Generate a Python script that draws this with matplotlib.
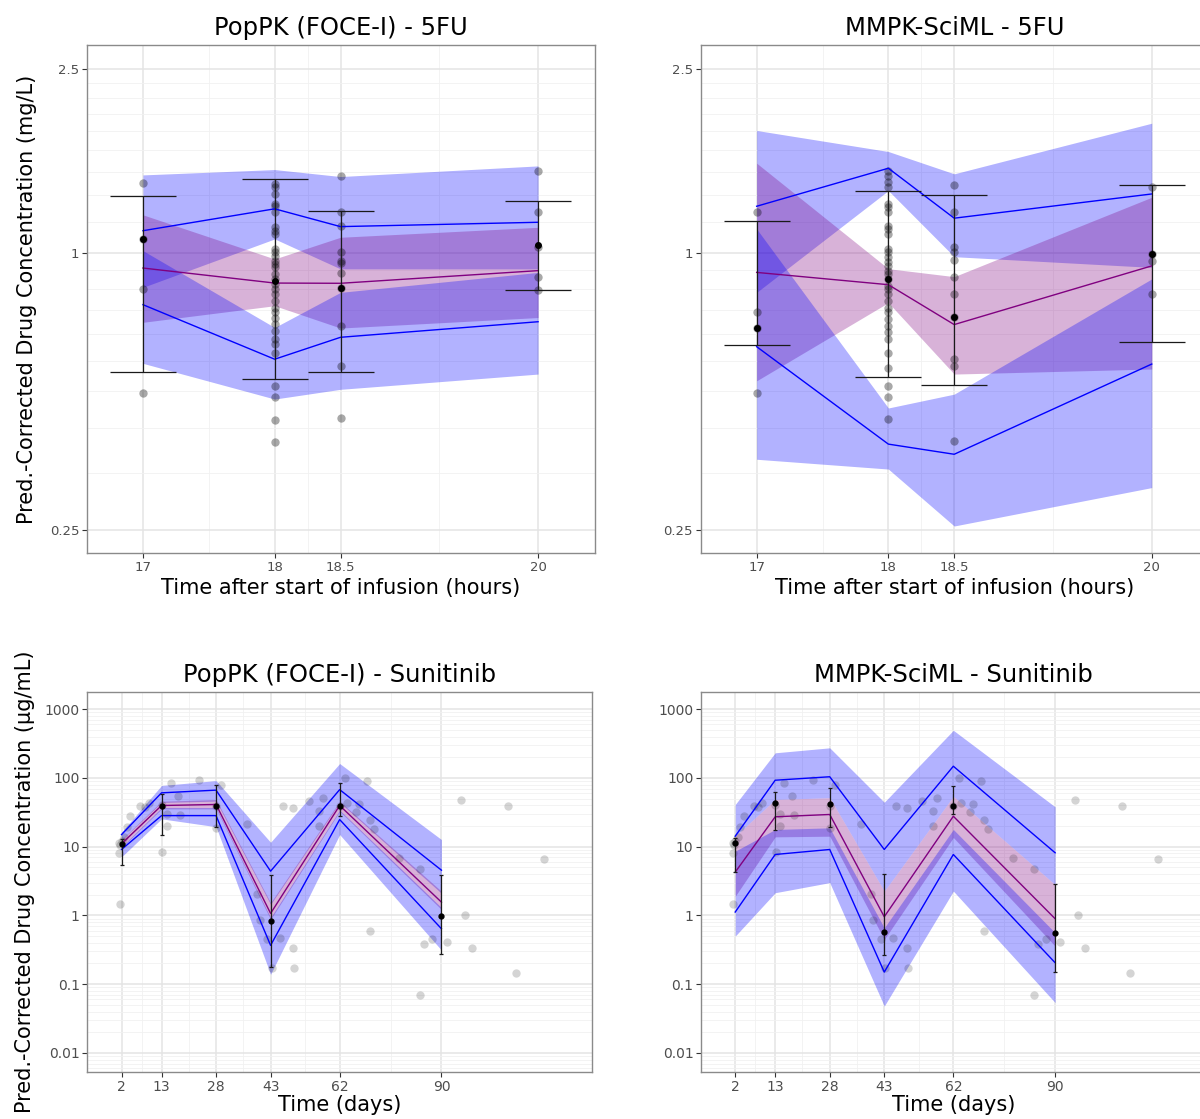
import numpy as np
import matplotlib
matplotlib.use("Agg")
import matplotlib.pyplot as plt
from matplotlib.ticker import FixedLocator, NullFormatter

# ── 5FU: time after start of infusion (hours) ────────────────────────────────
FU_TIME = [17, 18, 18.5, 20]
FU_YTICKS = [0.25, 1, 2.5]
FU_YLABELS = ["0.25", "1", "2.5"]
FU_YMINOR = [0.333, 0.417, 0.5, 0.583, 0.667, 0.75, 0.833, 0.917,
             1.167, 1.333, 1.5, 1.667, 1.833, 2.0, 2.167, 2.333]
FU_XMINOR = [17.5, 18.25, 19.25]

# PopPK (FOCE-I) - 5FU
tl_up_lo = [0.841, 1.071, 0.922, 0.922]
tl_up_hi = [1.475, 1.515, 1.463, 1.543]
tl_med_lo = [0.706, 0.767, 0.686, 0.723]
tl_med_hi = [1.208, 0.969, 1.080, 1.135]
tl_low_lo = [0.575, 0.481, 0.505, 0.545]
tl_low_hi = [1.010, 0.688, 0.820, 0.906]
tl_p95 = [1.116, 1.245, 1.139, 1.164]
tl_p50 = [0.926, 0.859, 0.858, 0.914]
tl_p05 = [0.771, 0.587, 0.655, 0.708]
tl_mean = [1.069, 0.869, 0.838, 1.037]
tl_err_lo = [0.552, 0.533, 0.552, 0.830]
tl_err_hi = [1.328, 1.443, 1.229, 1.297]
tl_obs_t = ([17] * 4 + [18] * 33 + [18.5] * 11 + [20] * 5)
tl_obs_v = [1.42, 1.07, 0.834, 0.496,
            1.410, 1.387, 1.341, 1.276, 1.265, 1.224, 1.135, 1.116, 1.098,
            1.019, 1.002, 0.985, 0.961, 0.945, 0.929, 0.899, 0.877, 0.855,
            0.834, 0.813, 0.786, 0.760, 0.742, 0.723, 0.700, 0.677, 0.649,
            0.633, 0.607, 0.514, 0.486, 0.433, 0.389,
            1.470, 1.224, 1.145, 1.002, 0.961, 0.948, 0.902, 0.838, 0.693,
            0.568, 0.438,
            1.507, 1.228, 1.027, 0.884, 0.830]

# MMPK-SciML - 5FU
tr_up_lo = [0.820, 1.364, 0.980, 0.929]
tr_up_hi = [1.842, 1.658, 1.483, 1.910]
tr_med_lo = [0.527, 0.779, 0.545, 0.559]
tr_med_hi = [1.564, 0.923, 0.887, 1.319]
tr_low_lo = [0.356, 0.339, 0.255, 0.309]
tr_low_hi = [1.126, 0.460, 0.493, 0.877]
tr_p95 = [1.261, 1.525, 1.188, 1.341]
tr_p50 = [0.906, 0.852, 0.698, 0.936]
tr_p05 = [0.625, 0.384, 0.365, 0.573]
tr_mean = [0.686, 0.877, 0.726, 0.993]
tr_err_lo = [0.630, 0.536, 0.516, 0.641]
tr_err_hi = [1.174, 1.359, 1.337, 1.401]
tr_obs_t = ([17] * 4 + [18] * 33 + [18.5] * 11 + [20] * 4)
tr_obs_v = [1.228, 0.742, 0.686, 0.497,
            1.507, 1.470, 1.422, 1.387, 1.276, 1.255, 1.224, 1.145, 1.126,
            1.098, 1.019, 1.002, 0.977, 0.953, 0.937, 0.914, 0.899, 0.877,
            0.848, 0.834, 0.813, 0.786, 0.760, 0.742, 0.718, 0.694, 0.671,
            0.649, 0.607, 0.563, 0.514, 0.486, 0.435,
            1.403, 1.228, 1.027, 1.002, 0.966, 0.884, 0.813, 0.726, 0.587,
            0.568, 0.390,
            1.387, 0.993, 0.958, 0.813]

# ── Sunitinib: time (days) ───────────────────────────────────────────────────
SUN_TIME = [2, 13, 28, 43, 62, 90]
SUN_YTICKS = [0.01, 0.1, 1, 10, 100, 1000]
SUN_YLABELS = ["0.01", "0.1", "1", "10", "100", "1000"]
SUN_YMINOR = [m * 10.0 ** e for e in range(-3, 4) for m in range(2, 10)]
SUN_XMINOR = [7.5, 20.5, 35.5, 52.5, 76]

# observations (same pred.-corrected points in both sunitinib panels)
sun_obs_t = [1.3, 1.6, 2.0, 1.26, 1.45, 2.8, 3.4, 4.3, 7.2, 8.4, 9.5, 13.0,
             13.2, 14.4, 14.4, 15.5, 17.5, 18.2, 23.4, 28.0, 28.1, 29.4,
             36.6, 39.3, 40.0, 42.1, 43.3, 45.5, 46.3, 49.2, 49.2, 49.4,
             53.5, 56.3, 56.3, 57.4, 62.0, 63.6, 64.1, 66.6, 67.3, 69.6,
             70.3, 70.3, 71.4, 78.3, 84.2, 84.2, 85.3, 87.4, 91.4, 95.4,
             96.4, 98.3, 108.4, 110.6, 118.3]
sun_obs_v = [11.5, 10.5, 12.0, 7.96, 1.48, 14.0, 19.5, 27.7, 39.7, 38.0,
             43.5, 40.0, 8.43, 29.4, 19.9, 83.0, 55.5, 28.7, 92.6, 39.0,
             18.8, 79.0, 21.7, 2.02, 0.85, 0.448, 0.174, 0.474, 38.8, 36.7,
             0.34, 0.17, 45.8, 32.8, 20.3, 51.4, 39.0, 100.0, 43.5, 31.7,
             42.4, 91.6, 24.8, 0.585, 18.2, 6.9, 4.66, 0.0687, 0.39, 0.448,
             0.41, 48.5, 1.01, 0.335, 39.7, 0.147, 6.67]

# PopPK (FOCE-I) - Sunitinib
bl_up_lo = [12.5, 44.0, 46.0, 1.45, 44.0, 2.1]
bl_up_hi = [16.3, 77.6, 91.5, 11.6, 162.0, 12.7]
bl_med_lo = [9.7, 35.5, 35.5, 0.875, 32.8, 1.22]
bl_med_hi = [12.7, 45.8, 48.5, 1.53, 45.8, 2.25]
bl_low_lo = [7.1, 25.4, 19.5, 0.139, 15.0, 0.313]
bl_low_hi = [10.0, 37.0, 37.0, 0.93, 34.0, 1.3]
bl_p95 = [15.0, 60.7, 66.4, 4.4, 67.6, 4.55]
bl_p50 = [11.0, 39.7, 41.1, 1.07, 39.7, 1.56]
bl_p05 = [9.1, 28.3, 28.3, 0.367, 24.8, 0.64]
bl_mean = [11.1, 39.7, 38.8, 0.83, 38.8, 0.977]
bl_err_lo = [5.38, 15.0, 19.2, 0.18, 27.7, 0.271]
bl_err_hi = [13.0, 59.3, 77.6, 3.85, 83.0, 3.81]

# MMPK-SciML - Sunitinib
br_up_lo = [14.2, 48.6, 51.5, 2.25, 54.0, 2.8]
br_up_hi = [41.0, 232.0, 274.0, 44.3, 493.0, 38.0]
br_med_lo = [1.9, 13.9, 14.2, 0.448, 13.6, 0.358]
br_med_hi = [14.2, 48.6, 51.5, 2.25, 54.0, 2.8]
br_low_lo = [0.5, 2.14, 3.0, 0.048, 2.26, 0.054]
br_low_hi = [8.6, 17.8, 18.8, 0.66, 17.8, 0.56]
br_p95 = [14.2, 92.6, 104.0, 9.1, 148.0, 8.15]
br_p50 = [4.26, 27.2, 29.4, 0.957, 27.7, 0.895]
br_p05 = [1.12, 7.7, 9.1, 0.15, 7.7, 0.205]
br_mean = [11.4, 42.5, 41.1, 0.58, 38.8, 0.56]
br_err_lo = [4.3, 17.4, 19.2, 0.262, 29.4, 0.152]
br_err_hi = [13.5, 62.9, 70.2, 3.95, 75.6, 2.82]

BAND_BLUE = "blue"
BAND_PINK = "purple"
GRID_MAJOR = "#e4e4e4"
GRID_MINOR = "#f1f1f1"


def draw_vpc(ax, t, up, med, low, p95, p50, p05, mean, err, obs,
             pt_alpha, capsize, ms):
    ax.fill_between(t, up[0], up[1], color=BAND_BLUE, alpha=0.3, lw=0, zorder=2)
    ax.fill_between(t, med[0], med[1], color=BAND_PINK, alpha=0.3, lw=0, zorder=2)
    ax.fill_between(t, low[0], low[1], color=BAND_BLUE, alpha=0.3, lw=0, zorder=2)
    ax.scatter(obs[0], obs[1], s=36, color="black", alpha=pt_alpha,
               lw=0, zorder=3)
    ax.plot(t, p95, color="blue", lw=1.0, zorder=4)
    ax.plot(t, p05, color="blue", lw=1.0, zorder=4)
    ax.plot(t, p50, color="purple", lw=1.0, zorder=4)
    m = np.asarray(mean)
    yerr = [m - np.asarray(err[0]), np.asarray(err[1]) - m]
    ax.errorbar(t, m, yerr=yerr, fmt="o", color="black", ms=ms,
                ecolor="#1a1a1a", elinewidth=0.9, capsize=capsize,
                capthick=0.9, zorder=5)


def style_axes(ax, xticks, xminor, yticks, ylabels, yminor, xlim, ylim,
               tick_size):
    ax.set_yscale("log")
    ax.set_xlim(*xlim)
    ax.set_ylim(*ylim)
    ax.set_xticks(xticks)
    ax.set_xticklabels([f"{v:g}" for v in xticks])
    ax.xaxis.set_minor_locator(FixedLocator(xminor))
    ax.set_yticks(yticks)
    ax.set_yticklabels(ylabels)
    ax.yaxis.set_minor_locator(FixedLocator(yminor))
    ax.yaxis.set_minor_formatter(NullFormatter())
    ax.grid(which="major", color=GRID_MAJOR, lw=1.1, zorder=0)
    ax.grid(which="minor", color=GRID_MINOR, lw=0.6, zorder=0)
    ax.set_axisbelow(True)
    ax.tick_params(which="major", direction="out", length=3.5, width=0.8,
                   color="#333333", labelcolor="#4d4d4d",
                   labelsize=tick_size, pad=2)
    ax.tick_params(which="minor", length=0)
    for sp in ax.spines.values():
        sp.set_color("#8a8a8a")
        sp.set_linewidth(1.0)


fig = plt.figure(figsize=(12, 11.19), dpi=100)

ax_tl = fig.add_axes([0.0725, 0.5058, 0.4233, 0.454])
ax_tr = fig.add_axes([0.5839, 0.5058, 0.4233, 0.454])
ax_bl = fig.add_axes([0.0728, 0.0420, 0.4208, 0.3396])
ax_br = fig.add_axes([0.5842, 0.0420, 0.4208, 0.3396])

FU_XLIM = (16.575, 20.432)
FU_YLIM = (0.2228, 2.824)
SUN_XLIM = (-7.4, 131.5)
SUN_YLIM = (0.00528, 1778)

draw_vpc(ax_tl, FU_TIME, (tl_up_lo, tl_up_hi), (tl_med_lo, tl_med_hi),
         (tl_low_lo, tl_low_hi), tl_p95, tl_p50, tl_p05, tl_mean,
         (tl_err_lo, tl_err_hi), (tl_obs_t, tl_obs_v), 0.34, 23.8, 4.0)
draw_vpc(ax_tr, FU_TIME, (tr_up_lo, tr_up_hi), (tr_med_lo, tr_med_hi),
         (tr_low_lo, tr_low_hi), tr_p95, tr_p50, tr_p05, tr_mean,
         (tr_err_lo, tr_err_hi), (tr_obs_t, tr_obs_v), 0.34, 23.8, 4.0)
draw_vpc(ax_bl, SUN_TIME, (bl_up_lo, bl_up_hi), (bl_med_lo, bl_med_hi),
         (bl_low_lo, bl_low_hi), bl_p95, bl_p50, bl_p05, bl_mean,
         (bl_err_lo, bl_err_hi), (sun_obs_t, sun_obs_v), 0.17, 1.5, 3.5)
draw_vpc(ax_br, SUN_TIME, (br_up_lo, br_up_hi), (br_med_lo, br_med_hi),
         (br_low_lo, br_low_hi), br_p95, br_p50, br_p05, br_mean,
         (br_err_lo, br_err_hi), (sun_obs_t, sun_obs_v), 0.17, 1.5, 3.5)

for ax in (ax_tl, ax_tr):
    style_axes(ax, FU_TIME, FU_XMINOR, FU_YTICKS, FU_YLABELS, FU_YMINOR,
               FU_XLIM, FU_YLIM, 9.5)
    ax.set_xlabel("Time after start of infusion (hours)", fontsize=15,
                  labelpad=3)
for ax in (ax_bl, ax_br):
    style_axes(ax, SUN_TIME, SUN_XMINOR, SUN_YTICKS, SUN_YLABELS, SUN_YMINOR,
               SUN_XLIM, SUN_YLIM, 10)
    ax.set_xlabel("Time (days)", fontsize=15, labelpad=1)

ax_tl.set_title("PopPK (FOCE-I) - 5FU", fontsize=17.5, pad=7)
ax_tr.set_title("MMPK-SciML - 5FU", fontsize=17.5, pad=7)
ax_bl.set_title("PopPK (FOCE-I) - Sunitinib", fontsize=17.5, pad=7)
ax_br.set_title("MMPK-SciML - Sunitinib", fontsize=17.5, pad=7)

ax_tl.set_ylabel("Pred.-Corrected Drug Concentration (mg/L)", fontsize=15,
                 labelpad=9)
ax_bl.set_ylabel("Pred.-Corrected Drug Concentration (\u00b5g/mL)", fontsize=15,
                 labelpad=7)

fig.savefig("out.png", dpi=100)
